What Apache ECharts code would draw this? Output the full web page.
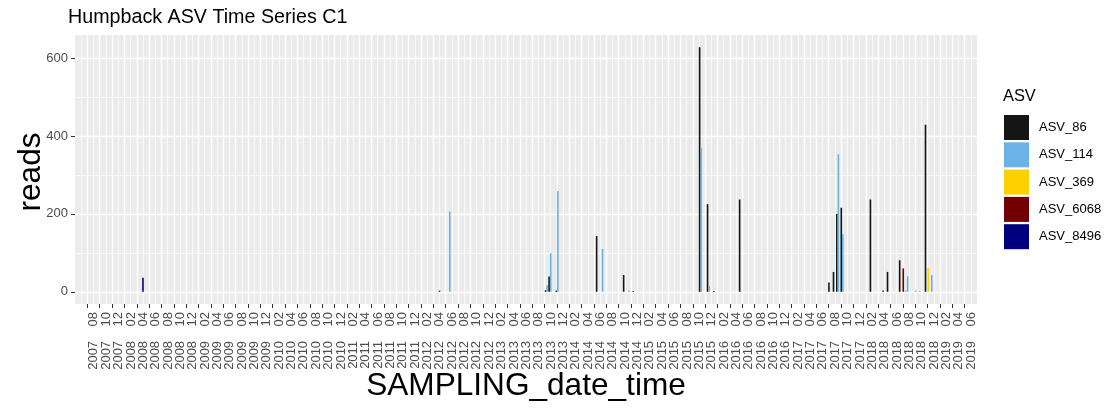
<!DOCTYPE html>
<html>
<head>
<meta charset="utf-8">
<script src="https://cdn.jsdelivr.net/npm/echarts@6/dist/echarts.min.js"></script>
<style>
html,body{margin:0;padding:0;background:#fff;}
#chart{width:1110px;height:408px;}
</style>
</head>
<body>
<div id="chart"></div>
<script>
// ---- data ----
const asvNames = ['ASV_86', 'ASV_114', 'ASV_369', 'ASV_6068', 'ASV_8496'];
const asvColors = ['#141414', '#69B3E7', '#FFD000', '#720000', '#000080'];

const asv86Dates = ['2012-05-01','2013-10-10','2013-10-28','2013-12-02','2014-06-14','2014-10-26','2014-12-12',
  '2015-11-08','2015-12-17','2016-01-13','2016-05-19','2017-08-02','2017-08-25','2017-09-14','2017-10-06',
  '2018-02-22','2018-05-17','2018-07-16','2018-11-21'];
const asv86Reads = [3, 4, 39, 3, 143, 43, 2, 628, 225, 2, 237, 24, 51, 200, 216, 237, 51, 81, 429];

const asv114Dates = ['2012-06-21','2013-10-10','2013-10-28','2013-12-02','2014-07-13','2014-11-21','2015-11-08',
  '2015-12-17','2017-09-14','2017-10-06','2018-08-16','2018-08-25','2018-10-03','2018-10-24','2018-12-22'];
const asv114Reads = [206, 17, 99, 259, 110, 3, 369, 15, 353, 148, 3, 40, 3, 2, 43];

const asv369Dates = ['2018-12-04'];
const asv369Reads = [61];

const asv6068Dates = ['2018-04-25','2018-08-03'];
const asv6068Reads = [3, 60];

const asv8496Dates = ['2008-05-01'];
const asv8496Reads = [36];

// axis: months counted from 2007-06
const axisStartYear = 2007, axisStartMonth = 6;
const axisMinMonths = 0, axisMaxMonths = 146;   // 2007-06 .. 2019-08
const tickStepMonths = 2;
const tickFirst = 2, tickLast = 144;            // 2007-08 .. 2019-06
const yTicks = [0, 200, 400, 600];
const yMinorTicks = [100, 300, 500];
const yMin = -31.4, yMax = 659.4;

// ---- helpers ----
function dateToMonths(s) {
  const [y, m, d] = s.split('-').map(Number);
  const dim = new Date(y, m, 0).getDate();
  return (y * 12 + (m - 1) + (d - 1) / dim) - (axisStartYear * 12 + axisStartMonth - 1);
}
function monthsToLabel(v) {
  const total = axisStartYear * 12 + (axisStartMonth - 1) + Math.round(v);
  const y = Math.floor(total / 12), m = total % 12 + 1;
  return y + '    ' + (m < 10 ? '0' + m : '' + m);
}
const allDates = [asv86Dates, asv114Dates, asv369Dates, asv6068Dates, asv8496Dates];
const allReads = [asv86Reads, asv114Reads, asv369Reads, asv6068Reads, asv8496Reads];

// dodge groups: which series are present at each date
const groups = {};
allDates.forEach((ds, si) => ds.forEach(d => {
  const k = dateToMonths(d).toFixed(4);
  (groups[k] = groups[k] || []).push(si);
}));

const xTickValues = [];
for (let v = tickFirst; v <= tickLast; v += tickStepMonths) xTickValues.push(v);
// labels split over two axes so that ECharts' overlap check never drops one
const xLabelsA = xTickValues.filter((v, i) => i % 2 === 0);
const xLabelsB = xTickValues.filter((v, i) => i % 2 === 1);

const BAR_W = 1.6;
function renderBar(params, api) {
  const x = api.value(0), v = api.value(1);
  const g = groups[x.toFixed(4)] || [params.seriesIndex];
  const n = g.length, k = Math.max(0, g.indexOf(params.seriesIndex));
  const base = api.coord([x, 0]);
  const top = api.coord([x, v]);
  const left = base[0] - n * BAR_W / 2 + k * BAR_W;
  return {
    type: 'rect',
    shape: { x: left, y: top[1], width: BAR_W, height: base[1] - top[1] },
    style: { fill: api.visual('color') }
  };
}

const series = asvNames.map((name, i) => ({
  name: name,
  type: 'custom',
  renderItem: renderBar,
  itemStyle: { color: asvColors[i] },
  data: allDates[i].map((d, j) => [dateToMonths(d), allReads[i][j]]),
  encode: { x: 0, y: 1 },
  xAxisIndex: 0, yAxisIndex: 0,
  clip: true,
  z: 3
}));

const FONT = 'Liberation Sans, Arial, Helvetica, sans-serif';
const xLabelStyle = {
  show: true, rotate: 90, margin: 8, verticalAlign: 'top', fontSize: 13,
  color: '#4D4D4D', fontFamily: FONT, formatter: v => monthsToLabel(v),
  showMinLabel: true, showMaxLabel: true, hideOverlap: false
};

const chart = echarts.init(document.getElementById('chart'), null, { renderer: 'canvas' });
chart.setOption({
  animation: false,
  backgroundColor: '#ffffff',
  textStyle: { fontFamily: FONT },
  title: [
    { text: 'Humpback ASV Time Series C1', left: 68, top: 8, padding: 0,
      textStyle: { fontSize: 19.7, fontWeight: 'normal', color: '#000', fontFamily: FONT } },
    { text: 'ASV', left: 1003, top: 88, padding: 0,
      textStyle: { fontSize: 16.4, fontWeight: 'normal', color: '#000', fontFamily: FONT } }
  ],
  legend: {
    orient: 'vertical', left: 1004, top: 115, padding: 0,
    itemWidth: 25, itemHeight: 25, itemGap: 2.3,
    icon: 'rect',
    textStyle: { fontSize: 13, color: '#000', fontFamily: FONT, padding: [0, 0, 0, 5] },
    data: asvNames
  },
  grid: { left: 75, top: 35, width: 902, height: 269, show: true, backgroundColor: '#EBEBEB', borderWidth: 0 },
  xAxis: [
    {
      type: 'value', min: axisMinMonths, max: axisMaxMonths, interval: tickStepMonths,
      position: 'bottom',
      axisLine: { show: false, onZero: false },
      axisTick: { show: true, length: 4, lineStyle: { color: '#333333', width: 1 }, customValues: xTickValues },
      axisLabel: Object.assign({ customValues: xLabelsA }, xLabelStyle),
      splitLine: { show: true, lineStyle: { color: '#FFFFFF', width: 1.4 } },
      minorTick: { show: false, splitNumber: 2 },
      minorSplitLine: { show: true, lineStyle: { color: '#FFFFFF', width: 0.7 } }
    },
    {
      type: 'value', min: axisMinMonths, max: axisMaxMonths, interval: tickStepMonths,
      position: 'bottom', offset: 0,
      axisLine: { show: false, onZero: false },
      axisTick: { show: false },
      axisLabel: Object.assign({ customValues: xLabelsB }, xLabelStyle),
      splitLine: { show: false },
      minorSplitLine: { show: false }
    }
  ],
  yAxis: [
    {
      type: 'value', min: yMin, max: yMax,
      axisLine: { show: false, onZero: false },
      axisTick: { show: true, length: 4, lineStyle: { color: '#333333', width: 1 }, customValues: yTicks },
      axisLabel: { show: true, margin: 7, fontSize: 13, color: '#4D4D4D', fontFamily: FONT, customValues: yTicks,
        showMinLabel: true, showMaxLabel: true },
      splitLine: { show: true, lineStyle: { color: '#FFFFFF', width: 1.4 } }
    },
    {
      type: 'value', min: yMin, max: yMax, position: 'left',
      axisLine: { show: false, onZero: false },
      axisTick: { show: false, customValues: yMinorTicks },
      axisLabel: { show: false, customValues: yMinorTicks },
      splitLine: { show: true, lineStyle: { color: '#FFFFFF', width: 0.7 } }
    }
  ],
  graphic: [
    { type: 'text', x: 526, y: 386, silent: true,
      style: { text: 'SAMPLING_date_time', fill: '#000', font: '31.6px ' + FONT, textAlign: 'center', textVerticalAlign: 'middle' } },
    { type: 'text', x: 31, y: 172, rotation: Math.PI / 2, silent: true,
      style: { text: 'reads', fill: '#000', font: '31.6px ' + FONT, textAlign: 'center', textVerticalAlign: 'middle' } }
  ],
  series: series
});
</script>
</body>
</html>
